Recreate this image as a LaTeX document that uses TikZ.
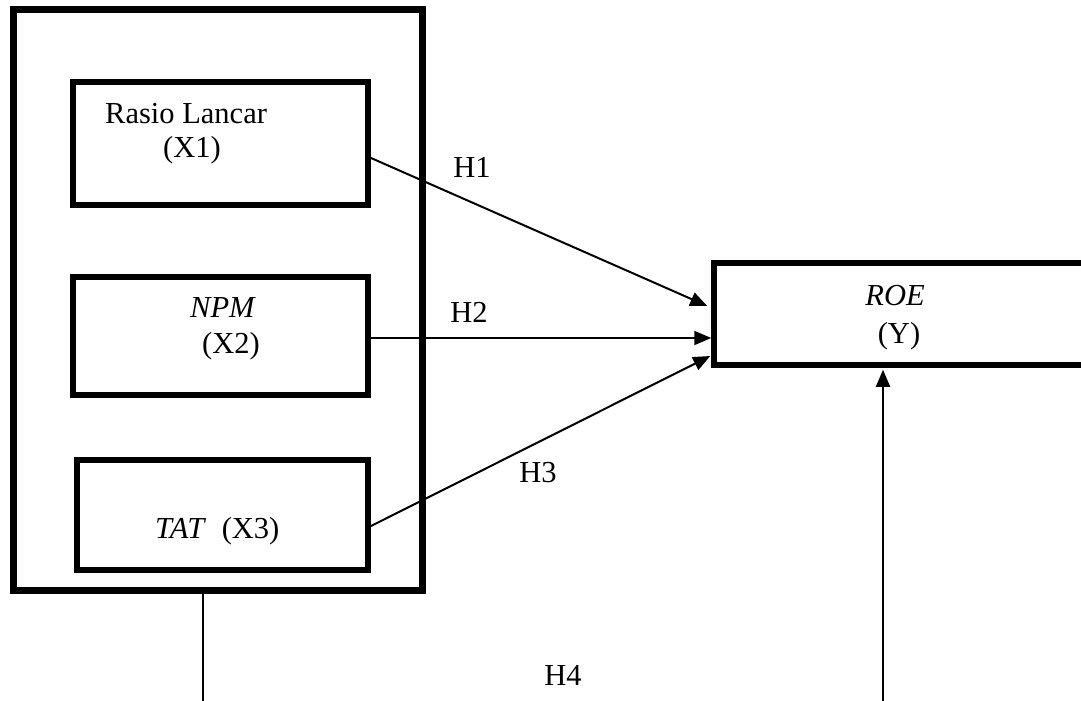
\documentclass[tikz,border=0pt]{standalone}
\usepackage{fontspec}
\setmainfont{Liberation Serif}
\usetikzlibrary{arrows.meta,calc}
\begin{document}
\begin{tikzpicture}[x=1pt,y=-1pt,
  box/.style={draw,rectangle,inner sep=0pt,line width=#1},
  box/.default=6pt,
  txt/.style={inner sep=0pt,anchor=base west,font=\fontsize{30.5}{36}\selectfont},
  lbl/.style={inner sep=0pt,anchor=base,font=\fontsize{30.5}{36}\selectfont},
  arr/.style={line width=2pt,-{Triangle[length=17pt,width=14pt]}},
  ln/.style={line width=1.6pt}]
\useasboundingbox (0,0) rectangle (1081,701);
\clip (0,0) rectangle (1081,701);
% boxes
\node[box=7pt,minimum width=409pt,minimum height=580pt] (outer) at (217.5,300) {};
\node[box,minimum width=295pt,minimum height=123pt] (X1) at (220.5,143.5) {};
\node[box,minimum width=295pt,minimum height=118pt] (X2) at (220.5,336) {};
\node[box,minimum width=291pt,minimum height=110pt] (X3) at (222.5,515) {};
\node[box=5.5pt,minimum width=386pt,minimum height=102pt] (ROE) at (907,314) {};
% texts
\node[txt] (t1a) at (105,123) {Rasio Lancar};
\node[txt] (t1b) at (163,157) {(X1)};
\node[txt] (t2a) at (190,317) {\textit{NPM}};
\node[txt] (t2b) at (202,353) {(X2)};
\node[txt] (t3) at (155,538) {\textit{TAT}\hspace{8pt} (X3)};
\node[lbl] (ty1) at (895,305) {\textit{ROE}};
\node[lbl] (ty2) at (899,343) {(Y)};
% labels
\node[lbl] (h1) at (472,177) {H1};
\node[lbl] (h2) at (469,322) {H2};
\node[lbl] (h3) at (538,482) {H3};
\node[lbl] (h4) at (563,685) {H4};
% connectors
\draw[arr] ($(X1.east)+(0,14.5)$) -- ($(ROE.west)+(-4,-8)$);
\draw[arr] ($(X2.east)+(0,2)$) -- ($(ROE.west)+(0,24)$);
\draw[arr] ($(X3.east)+(0,11)$) -- ($(ROE.west)+(-1,42)$);
\coordinate (b1) at (203,701);
\coordinate (b2) at (883,701);
\draw[ln] ($(outer.south)+(-14.5,0)$) -- (b1);
\draw[arr,line width=1.8pt] (b2) -- ($(ROE.south)+(-24,2)$);
\end{tikzpicture}
\end{document}
